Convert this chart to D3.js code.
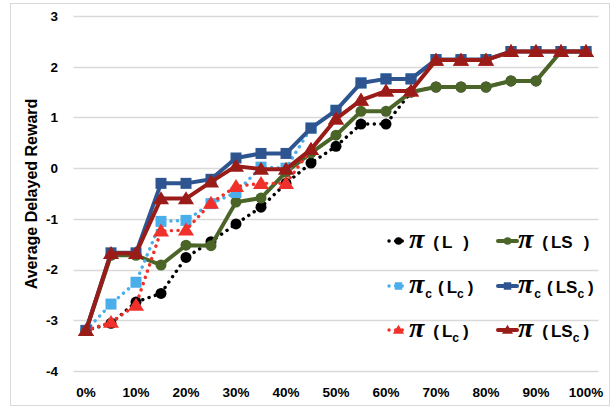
<!DOCTYPE html>
<html>
<head>
<meta charset="utf-8">
<script src="https://cdn.jsdelivr.net/npm/d3@7"></script>
<style>
    body { margin: 0; background: #fff; }
    .tick-label { font-family: "Liberation Sans", Arial, sans-serif; font-weight: bold; font-size: 13.5px; fill: #000; }
    .axis-title { font-family: "Liberation Sans", Arial, sans-serif; font-weight: bold; font-size: 16px; fill: #000; }
    .legend-text { font-family: "Liberation Sans", Arial, sans-serif; font-weight: bold; font-size: 17px; fill: #000; }
    .legend-text .pi { font-family: "Liberation Serif", serif; font-style: italic; font-weight: bold; font-size: 28px; }
    .legend-text .sub { font-size: 12px; }
</style>
</head>
<body>
<div id="chart"></div>
<script>
    // x categories (fraction of data)
    var categories = ["0%", "5%", "10%", "15%", "20%", "25%", "30%", "35%", "40%", "45%", "50%",
        "55%", "60%", "65%", "70%", "75%", "80%", "85%", "90%", "95%", "100%"];
    var xTickLabels = ["0%", "10%", "20%", "30%", "40%", "50%", "60%", "70%", "80%", "90%", "100%"];
    var yTicks = [-4, -3, -2, -1, 0, 1, 2, 3];

    // series values
    var piL    = [-3.2, -3.06, -2.64, -2.47, -1.76, -1.45, -1.1, -0.77, -0.3, 0.1, 0.43, 0.87, 0.87, 1.5, 1.6, 1.6, 1.6, 1.72, 1.72, 2.3, 2.3];
    var piLS   = [-3.2, -1.72, -1.72, -1.91, -1.52, -1.53, -0.67, -0.59, -0.08, 0.3, 0.65, 1.12, 1.12, 1.5, 1.6, 1.6, 1.6, 1.72, 1.72, 2.3, 2.3];
    var picLc  = [-3.2, -2.68, -2.25, -1.05, -1.03, -0.7, -0.48, 0.02, 0.0, 0.79, 1.14, 1.68, 1.76, 1.76, 2.14, 2.14, 2.14, 2.3, 2.3, 2.3, 2.3];
    var picLSc = [-3.2, -1.67, -1.67, -0.3, -0.3, -0.22, 0.2, 0.29, 0.29, 0.79, 1.14, 1.68, 1.76, 1.76, 2.14, 2.14, 2.14, 2.3, 2.3, 2.3, 2.3];
    var piLc   = [-3.2, -3.04, -2.7, -1.24, -1.22, -0.69, -0.36, -0.3, -0.3, 0.37, 0.97, 1.34, 1.52, 1.52, 2.13, 2.13, 2.13, 2.3, 2.3, 2.3, 2.3];
    var piLSc  = [-3.2, -1.68, -1.68, -0.6, -0.6, -0.27, 0.04, -0.02, -0.02, 0.37, 0.97, 1.34, 1.52, 1.52, 2.13, 2.13, 2.13, 2.3, 2.3, 2.3, 2.3];

    // legend labels: [subscript after pi, inner, subscript after inner]
    var series = [
        {values: piL,    color: "#000000", dotted: true,  marker: "circle",   label: ["", "L", ""]},
        {values: piLS,   color: "#4b6528", dotted: false, marker: "circle",   label: ["", "LS", ""]},
        {values: picLc,  color: "#4aaeea", dotted: true,  marker: "square",   label: ["c", "L", "c"]},
        {values: picLSc, color: "#2f5590", dotted: false, marker: "square",   label: ["c", "LS", "c"]},
        {values: piLc,   color: "#f0302a", dotted: true,  marker: "triangle", label: ["", "L", "c"]},
        {values: piLSc,  color: "#9a1c18", dotted: false, marker: "triangle", label: ["", "LS", "c"]}
    ];

    var width = 616, height = 410;
    var svg = d3.select("#chart").append("svg")
            .attr("width", width)
            .attr("height", height);

    // outer chart border
    svg.append("rect")
            .attr("x", 10.5).attr("y", 3.5)
            .attr("width", 599).attr("height", 402)
            .attr("fill", "none")
            .attr("stroke", "#d9d9d9");

    var x = d3.scalePoint()
            .domain(categories)
            .range([73.5, 598.5])
            .padding(0.5);
    var y = d3.scaleLinear()
            .domain([-4, 3])
            .range([371, 16]);

    // gridlines
    svg.append("g")
            .selectAll("line")
            .data(yTicks)
            .enter().append("line")
            .attr("x1", 73.5).attr("x2", 598.5)
            .attr("y1", function(d) { return Math.round(y(d)) + 0.5; })
            .attr("y2", function(d) { return Math.round(y(d)) + 0.5; })
            .attr("stroke", "#d9d9d9")
            .attr("stroke-width", 1.3);

    // y tick labels
    svg.append("g")
            .selectAll("text")
            .data(yTicks)
            .enter().append("text")
            .attr("class", "tick-label")
            .attr("x", 58)
            .attr("y", function(d) { return y(d); })
            .attr("dy", "0.36em")
            .attr("text-anchor", "end")
            .text(function(d) { return d; });

    // x tick labels
    svg.append("g")
            .selectAll("text")
            .data(xTickLabels)
            .enter().append("text")
            .attr("class", "tick-label")
            .attr("x", function(d) { return x(d); })
            .attr("y", 397)
            .attr("text-anchor", "middle")
            .text(function(d) { return d; });

    svg.append("text")
            .attr("class", "axis-title")
            .attr("transform", "translate(37,194) rotate(-90)")
            .attr("text-anchor", "middle")
            .text("Average Delayed Reward");

    var line = d3.line()
            .x(function(d, i) { return x(categories[i]); })
            .y(function(d) { return y(d); });

    function drawMarker(g, type, color, size) {
        if (type === "circle") {
            g.append("circle").attr("r", size / 2).attr("fill", color);
        } else if (type === "square") {
            g.append("rect")
                    .attr("x", -size / 2).attr("y", -size / 2)
                    .attr("width", size).attr("height", size)
                    .attr("fill", color);
        } else {
            var h = size * 0.95;
            g.append("path")
                    .attr("d", "M0," + (-h * 0.6) + "L" + (size * 0.62) + "," + (h * 0.45) + "L" + (-size * 0.62) + "," + (h * 0.45) + "Z")
                    .attr("fill", color);
        }
    }

    function styleLine(sel, s) {
        sel.attr("fill", "none")
                .attr("stroke", s.color)
                .attr("stroke-linecap", "round")
                .attr("stroke-linejoin", "round");
        if (s.dotted) {
            sel.attr("stroke-width", 3.4).attr("stroke-dasharray", "0.1 6.5");
        } else {
            sel.attr("stroke-width", 4);
        }
    }

    series.forEach(function(s) {
        var g = svg.append("g");
        styleLine(g.append("path").datum(s.values).attr("d", line), s);

        var msize = s.marker === "triangle" ? 13 : 11;
        g.selectAll(".pt")
                .data(s.values)
                .enter().append("g")
                .attr("transform", function(d, i) { return "translate(" + x(categories[i]) + "," + y(d) + ")"; })
                .each(function() { drawMarker(d3.select(this), s.marker, s.color, msize); });
    });

    // legend, 2 columns x 3 rows
    var legendCols = [388, 497], legendRows = [241, 286, 330];
    series.forEach(function(s, i) {
        var lx = legendCols[i % 2], ly = legendRows[Math.floor(i / 2)];
        var lg = svg.append("g").attr("transform", "translate(" + lx + "," + ly + ")");
        styleLine(lg.append("line").attr("x1", 1).attr("x2", 20).attr("y1", 0).attr("y2", 0), s);
        var mg = lg.append("g").attr("transform", "translate(10.5,0)");
        drawMarker(mg, s.marker, s.color, s.marker === "triangle" ? 9 : 7.5);

        var t = lg.append("text").attr("class", "legend-text").attr("x", 21).attr("y", 6.5);
        t.append("tspan").attr("class", "pi").text("π");
        if (s.label[0]) {
            t.append("tspan").attr("class", "sub").attr("dx", 1).attr("dy", 5).text(s.label[0]);
            t.append("tspan").attr("dx", 6).attr("dy", -5).text("(");
        } else {
            t.append("tspan").attr("dx", 9).text("(");
        }
        t.append("tspan").attr("dx", 3).text(s.label[1]);
        if (s.label[2]) {
            t.append("tspan").attr("class", "sub").attr("dy", 5).text(s.label[2]);
            t.append("tspan").attr("dx", 4).attr("dy", -5).text(")");
        } else {
            t.append("tspan").attr("dx", 11).text(")");
        }
    });
</script>
</body>
</html>
